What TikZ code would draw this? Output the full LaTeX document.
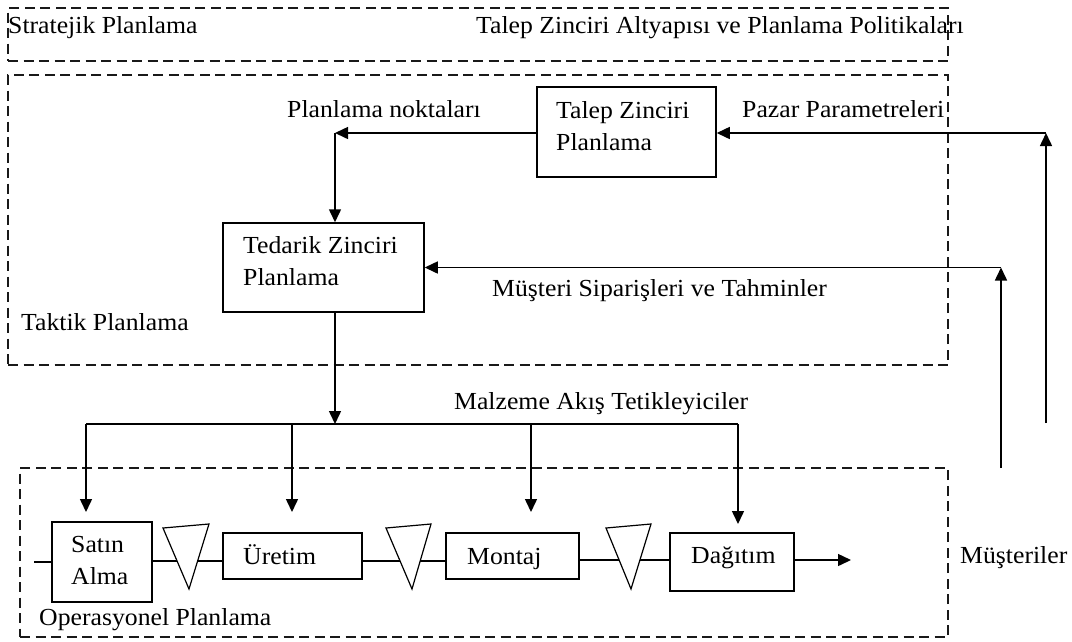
\documentclass[tikz,border=0pt]{standalone}
\usepackage{fontspec}
\setmainfont{Liberation Serif}[FakeStretch=1.05]
\usetikzlibrary{arrows.meta}

\begin{document}
\begin{tikzpicture}[x=1pt,y=-1pt,
  every node/.style={font=\fontsize{24.5}{32}\selectfont},
  region/.style={draw=black!90, dash pattern=on 10pt off 5.5pt, line width=1.5pt, inner sep=0pt},
  box/.style={draw, line width=1.5pt, inner sep=0pt},
  lbl/.style={anchor=base west, inner sep=0pt},
  mlbl/.style={anchor=west, inner sep=0pt, align=left},
  flow/.style={line width=1.5pt, -{Triangle[length=13pt,width=12pt]}},
  link/.style={line width=1.5pt},
  buffer/.style={draw, line width=1.2pt, fill=white, line join=miter}
]
\useasboundingbox (0,0) rectangle (1072,641);

% planning levels
\node[region, minimum width=940pt, minimum height=53pt]  (strat) at (478,34.5) {};
\node[region, minimum width=940pt, minimum height=290pt] (tact)  at (478,220) {};
\node[region, minimum width=928pt, minimum height=169pt] (oper)  at (484,552.5) {};

\node[lbl] (stratL) at (8,33)   {Stratejik Planlama};
\node[lbl] (stratR) at (476,33) {Talep Zinciri Altyapısı ve Planlama Politikaları};
\node[lbl] (tactL)  at (21,330) {Taktik Planlama};
\node[lbl] (operL)  at (39,625) {Operasyonel Planlama};

% planning boxes
\node[box, minimum width=179pt, minimum height=90pt] (talep)   at (626.5,132) {};
\node[mlbl] (talepT) at (556,126.4) {Talep Zinciri\\Planlama};
\node[box, minimum width=201pt, minimum height=89pt] (tedarik) at (323.5,267.5) {};
\node[mlbl] (tedarikT) at (243,261) {Tedarik Zinciri\\Planlama};

% operational chain
\node[box, minimum width=100pt, minimum height=80pt] (sa)  at (102,562) {};
\node[mlbl] (saT) at (71,560) {Satın\\Alma};
\node[box, minimum width=139pt, minimum height=46pt] (ur)  at (292.5,556) {};
\node[lbl] (urT) at (243,564) {Üretim};
\node[box, minimum width=133pt, minimum height=46pt] (mo)  at (512.5,556) {};
\node[lbl] (moT) at (467,564) {Montaj};
\node[box, minimum width=124pt, minimum height=58pt] (dag) at (732,562) {};
\node[lbl] (dagT) at (691,563.3) {Dağıtım};
\node[lbl] (cust) at (960,563.3) {Müşteriler};

% flow labels
\node[lbl] (lpn)  at (287,117.7) {Planlama noktaları};
\node[lbl] (lpz)  at (742,117.7) {Pazar Parametreleri};
\node[lbl] (lms)  at (492,296.7) {Müşteri Siparişleri ve Tahminler};
\node[lbl] (lmat) at (454,409.3) {Malzeme Akış Tetikleyiciler};

% feedback from customers
\coordinate (pzB) at (1046,423);
\coordinate (pzT) at (1046,133);
\coordinate (msB) at (1001,468);
\coordinate (msT) at (1001,267.5);
\draw[flow] (pzB) -- (pzT);
\draw[flow] (pzT) -- (talep.east |- pzT);
\draw[flow] (msB) -- (msT);
\draw[flow] (msT) -- (tedarik.east);

% planning points
\coordinate (pnC) at (335,133);
\draw[flow] (talep.west |- pnC) -- (pnC);
\draw[flow] (pnC) -- (pnC |- tedarik.north);

% material flow triggers
\coordinate (trg) at (335,424);
\draw[flow] (trg |- tedarik.south) -- (trg);
\coordinate (tL) at (86,424);
\coordinate (tR) at (738,424);
\draw[link] (tL) -- (tR);
\coordinate (d1) at (86,512);
\coordinate (d2) at (292,512);
\coordinate (d3) at (531,512);
\coordinate (d4) at (738,524);
\draw[flow] (tL) -- (d1);
\draw[flow] (d2 |- tL) -- (d2);
\draw[flow] (d3 |- tL) -- (d3);
\draw[flow] (tR) -- (d4);

% links along the chain
\coordinate (inL) at (34,562);
\draw[link] (inL) -- (sa.west |- inL);
\draw[link] (sa.east |- 0,561) -- (ur.west |- 0,561);
\draw[link] (ur.east |- 0,561) -- (mo.west |- 0,561);
\draw[link] (mo.east |- 0,560) -- (dag.west |- 0,560);
\coordinate (outR) at (851,560);
\draw[flow] (dag.east |- outR) -- (outR);

% stock buffers
\draw[buffer] (163,528) -- (209,524) -- (189,589) -- cycle;
\draw[buffer] (386,528) -- (431,524) -- (412,589) -- cycle;
\draw[buffer] (606,528) -- (651,524) -- (631,589) -- cycle;

\end{tikzpicture}
\end{document}
